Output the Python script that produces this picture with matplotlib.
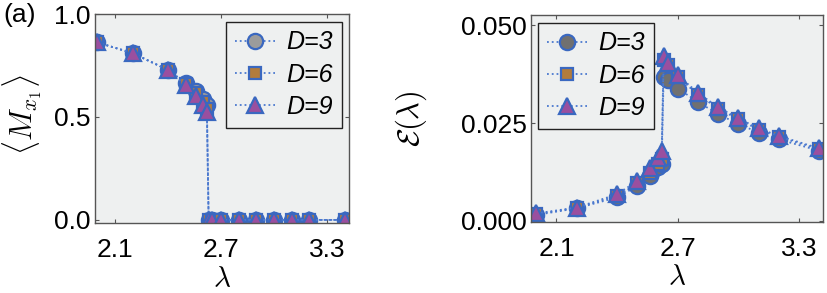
import numpy as np
import matplotlib.pyplot as plt

plt.rcParams['font.family'] = ['Liberation Sans', 'DejaVu Sans']
plt.rcParams['mathtext.fontset'] = 'cm'

# lambda grid (shared); jump between 2.62 and 2.63
lam = [2.0, 2.2, 2.4, 2.5, 2.56, 2.6, 2.62, 2.63, 2.65, 2.7, 2.8, 2.9, 3.0, 3.1, 3.2, 3.4]

# <M_x1> for D = 3, 6, 9
mx_d3 = [0.862, 0.81, 0.728, 0.667, 0.626, 0.585, 0.556, 0, 0, 0, 0, 0, 0, 0, 0, 0]
mx_d6 = [0.862, 0.81, 0.728, 0.662, 0.615, 0.572, 0.54, 0, 0, 0, 0, 0, 0, 0, 0, 0]
mx_d9 = [0.862, 0.81, 0.728, 0.655, 0.600, 0.560, 0.525, 0, 0, 0, 0, 0, 0, 0, 0, 0]

# entanglement E(lambda)
en_d3 = [0.0015, 0.0032, 0.0060, 0.0089, 0.0115, 0.0138, 0.0146, 0.0367, 0.0359, 0.0338,
         0.0304, 0.0272, 0.0248, 0.0225, 0.0208, 0.0179]
en_d6 = [0.0017, 0.0033, 0.0064, 0.0096, 0.0123, 0.0146, 0.0158, 0.0410, 0.0398, 0.0368,
         0.0322, 0.0287, 0.0259, 0.0233, 0.0214, 0.0183]
en_d9 = [0.0019, 0.0034, 0.0068, 0.0102, 0.0136, 0.0160, 0.0179, 0.0421, 0.0404, 0.0372,
         0.0327, 0.0290, 0.0262, 0.0236, 0.0217, 0.0185]

labels = ['D=3', 'D=6', 'D=9']
edge = '#3a68c0'
line_c = '#4b79cf'
bg = '#eef0f0'
fs = 19

fig = plt.figure(figsize=(8.28, 2.93), dpi=100)
ax1 = fig.add_axes([0.1147, 0.2389, 0.3068, 0.7133])
ax2 = fig.add_axes([0.6413, 0.2423, 0.3527, 0.7065])


def draw(ax, ys, circ_face):
    styles = [('o', circ_face, 11.0), ('s', '#b27c3c', 8.5), ('^', '#9a4f9f', 11.5)]
    for y, lab, (m, fc, ms) in zip(ys, labels, styles):
        ax.plot(lam, y, ls=':', color=line_c, lw=1.3, marker=m, ms=ms,
                mfc=fc, mec=edge, mew=1.6, label=lab)
    ax.set_facecolor(bg)
    for s in ax.spines.values():
        s.set_color('#555555')
        s.set_linewidth(1.0)
    ax.tick_params(direction='in', length=3, width=0.8, color='#555555',
                   top=True, right=True, labelsize=fs)
    ax.tick_params(axis='x', pad=11)
    ax.tick_params(axis='y', pad=3)
    ax.set_xticks([2.1, 2.7, 3.3])
    ax.set_xlabel(r'$\lambda$', fontsize=21)
    ax.xaxis.set_label_coords(0.5, -0.2)


def leg(ax, loc):
    ax.legend(loc=loc, prop={'size': 18, 'style': 'italic'}, fancybox=False,
              edgecolor='#222222', facecolor=bg, framealpha=1, handlelength=1.6,
              borderpad=0.35, labelspacing=0.33, handletextpad=0.45,
              borderaxespad=0.3)


draw(ax1, [mx_d3, mx_d6, mx_d9], '#9c9c9c')
ax1.set_xlim(1.987, 3.424)
ax1.set_ylim(-0.015, 1.0)
ax1.set_yticks([0.0, 0.5, 1.0])
ax1.set_yticklabels(['0.0', '0.5', '1.0'])
ax1.set_ylabel(r'$\langle M_{x_1}\rangle$', fontsize=22)
ax1.yaxis.set_label_coords(-0.2, 0.52)
leg(ax1, 'upper right')
fig.text(0.004, 0.95, '(a)', fontsize=fs, va='center', ha='left')

draw(ax2, [en_d3, en_d6, en_d9], '#707070')
ax2.set_xlim(1.974, 3.418)
ax2.set_ylim(-0.0003, 0.0526)
ax2.set_yticks([0.0, 0.025, 0.05])
ax2.set_yticklabels(['0.000', '0.025', '0.050'])
ax2.set_ylabel(r'$\mathcal{E}(\lambda)$', fontsize=22)
ax2.yaxis.set_label_coords(-0.35, 0.5)
leg(ax2, 'upper left')

fig.savefig('out.png', dpi=100)
